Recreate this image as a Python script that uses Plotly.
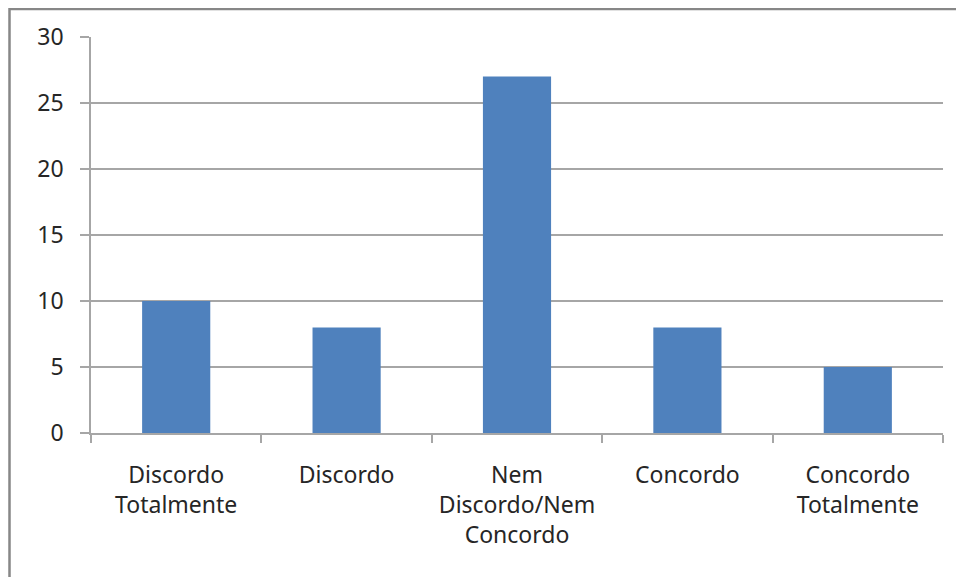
import plotly.graph_objects as go

categories = ["Discordo<br>Totalmente", "Discordo", "Nem<br>Discordo/Nem<br>Concordo", "Concordo", "Concordo<br>Totalmente"]
values = [10, 8, 27, 8, 5]
y_ticks = [0, 5, 10, 15, 20, 25, 30]

OFF = 8  # page body margin
W, H = 964 - OFF, 577 - OFF
L, R, T, B = 91 - OFF, 21, 37 - OFF, 144
pw, ph = W - L - R, H - T - B

def px_x(x):
    return (x - OFF - L) / pw

def px_y(y):
    return (H - B - (y - OFF)) / ph

fig = go.Figure(go.Bar(
    x=categories, y=values,
    marker=dict(color="#4F81BD", line=dict(width=0)),
    width=0.4,
))

fig.update_layout(
    width=W, height=H,
    margin=dict(l=L, r=R, t=T, b=B),
    paper_bgcolor="white", plot_bgcolor="white",
    font=dict(family="Noto Sans", size=23, color="#262626"),
    showlegend=False,
    shapes=[dict(type="rect", xref="paper", yref="paper",
                 x0=px_x(9.5), x1=px_x(1000), y0=px_y(620), y1=px_y(9),
                 line=dict(color="#878787", width=2.5), fillcolor="rgba(0,0,0,0)", layer="above")],
)
fig.update_xaxes(
    showline=True, linecolor="#A6A6A6", linewidth=1.5,
    ticks="outside", tickson="boundaries", ticklen=8, tickcolor="#A6A6A6", tickwidth=1.5,
    showgrid=False, tickfont=dict(size=23), ticklabelstandoff=21,
)
fig.update_yaxes(
    range=[0, 30], tickvals=y_ticks,
    showline=True, linecolor="#A6A6A6", linewidth=1.5,
    ticks="outside", ticklen=9, tickcolor="#A6A6A6", tickwidth=1.5,
    showgrid=True, gridcolor="#A6A6A6", gridwidth=1.5,
    zeroline=False, tickfont=dict(size=23), ticklabelstandoff=12,
)

fig.write_html("out.html")
